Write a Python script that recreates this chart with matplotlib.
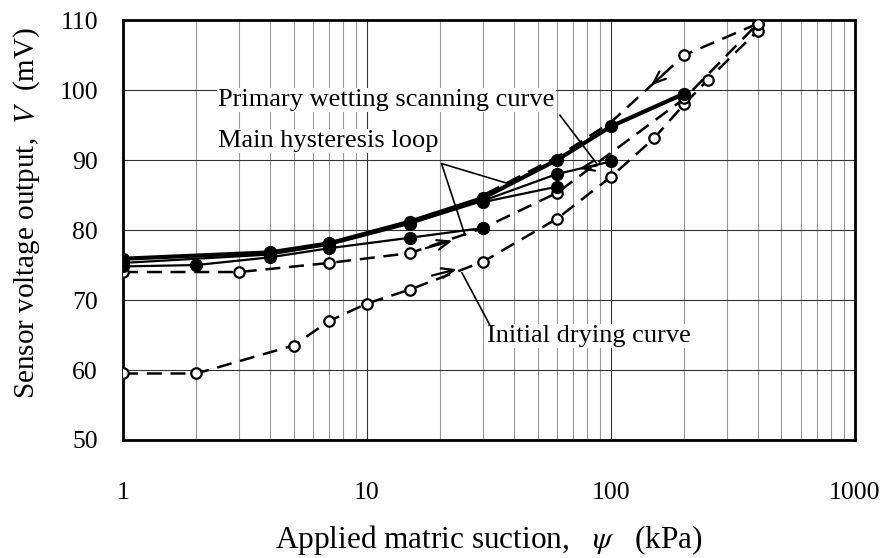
import matplotlib
matplotlib.use("Agg")
import matplotlib.pyplot as plt
from matplotlib.ticker import LogLocator, FixedLocator, NullFormatter

plt.rcParams["font.family"] = ["Liberation Serif", "DejaVu Serif"]
plt.rcParams["mathtext.fontset"] = "stix"

# ── data (suction in kPa, voltage in mV) ──────────────────────────────────────
init_dry_x = [1, 2, 5, 7, 10, 15, 30, 60, 100, 150, 200, 250, 400]
init_dry_v = [59.5, 59.5, 63.5, 67.0, 69.5, 71.5, 75.5, 81.6, 87.6, 93.1, 98.0, 101.5, 108.5]

main_dry_x = [1, 3, 7, 15, 30, 60, 200, 400]
main_dry_v = [74.0, 74.0, 75.3, 76.7, 80.3, 85.3, 98.8, 109.5]

main_wet_x = [400, 200, 100, 60, 30]
main_wet_v = [109.5, 105.0, 95.4, 90.4, 85.0]

prim_wet_x = [200, 100, 60, 30, 15, 7, 4, 1]
prim_wet_v = [99.5, 94.8, 90.0, 84.6, 81.2, 78.1, 76.8, 75.9]

scan2_x = [100, 60, 30, 15, 7, 4, 1]
scan2_v = [89.8, 88.0, 84.2, 80.9, 77.9, 76.5, 75.3]

scan3_x = [60, 30]
scan3_v = [86.2, 84.0]

scan4_x = [30, 15, 7, 4, 2, 1]
scan4_v = [80.3, 78.9, 77.4, 76.1, 75.0, 74.8]

x_ticks = [1, 10, 100, 1000]
y_ticks = [50, 60, 70, 80, 90, 100, 110]

fig = plt.figure(figsize=(8.85, 5.58), dpi=100)
ax = fig.add_axes([0.139, 0.2115, 0.827, 0.7525])
ax.set_xscale("log")
ax.set_xlim(1, 1000)
ax.set_ylim(50, 110)

# grid
ax.xaxis.set_major_locator(FixedLocator(x_ticks))
ax.xaxis.set_minor_locator(LogLocator(base=10, subs=range(2, 10)))
ax.xaxis.set_minor_formatter(NullFormatter())
ax.yaxis.set_major_locator(FixedLocator(y_ticks))
ax.grid(which="major", axis="both", color="#333333", lw=0.8)
ax.grid(which="minor", axis="x", color="#999999", lw=0.8)
ax.set_axisbelow(True)
ax.tick_params(which="both", length=0)
ax.tick_params(axis="x", pad=30, labelsize=18.5)
ax.tick_params(axis="y", pad=18, labelsize=18.5)
ax.set_xticklabels([str(t) for t in x_ticks])
for s in ax.spines.values():
    s.set_linewidth(2.0)

dash = (0, (6, 3.5))
open_kw = dict(marker="o", ms=7.5, mfc="white", mec="black", mew=1.6, color="black")
fill_kw = dict(marker="o", ms=8.5, mfc="black", mec="black", color="black")

ax.plot(init_dry_x, init_dry_v, ls=dash, lw=1.8, **open_kw, zorder=3)
ax.plot(main_dry_x, main_dry_v, ls=dash, lw=1.8, **open_kw, zorder=3)
ax.plot(main_wet_x, main_wet_v, ls=dash, lw=1.8, markevery=[0, 1], **open_kw, zorder=3)
ax.plot(scan4_x, scan4_v, ls="-", lw=1.6, **fill_kw, zorder=4)
ax.plot(scan3_x, scan3_v, ls="-", lw=1.6, **fill_kw, zorder=4)
ax.plot(scan2_x, scan2_v, ls="-", lw=1.6, **fill_kw, zorder=4)
ax.plot(prim_wet_x, prim_wet_v, ls="-", lw=3.0, **fill_kw, zorder=5)

# direction arrows along the curves
arrow_kw = dict(arrowstyle="->,head_length=0.9,head_width=0.35", color="black", lw=1.6)
for (x0, y0), (x1, y1) in [((18, 73.4), (24, 74.5)),
                           ((17, 77.3), (23, 78.6)),
                           ((90, 89.3), (72, 88.7)),
                           ((170, 102.7), (143, 100.4))]:
    ax.annotate("", xy=(x1, y1), xytext=(x0, y0), arrowprops=arrow_kw, zorder=6)

# labels with leader lines
box = dict(facecolor="white", edgecolor="none", pad=1)
ax.text(0.130, 0.810, "Primary wetting scanning curve", transform=ax.transAxes,
        fontsize=19, va="center", ha="left", bbox=box, zorder=7)
ax.text(0.130, 0.712, "Main hysteresis loop", transform=ax.transAxes,
        fontsize=19, va="center", ha="left", bbox=box, zorder=7)
ax.text(0.497, 0.248, "Initial drying curve", transform=ax.transAxes,
        fontsize=19, va="center", ha="left", bbox=box, zorder=7)

ax.plot([61.8, 87.0], [96.4, 89.6], color="black", lw=1.2, zorder=7)
ax.plot([37.4, 20.2, 25.2], [86.7, 89.5, 79.3], color="black", lw=1.2, zorder=7)
ax.plot([24.5, 31.8], [73.9, 66.5], color="black", lw=1.2, zorder=7)

ax.set_ylabel(r"Sensor voltage output,  $V$  (mV)", fontsize=21)
ax.yaxis.label.set_va("center")
ax.yaxis.set_label_coords(-0.131, 0.54)
ax.set_xlabel(r"Applied matric suction,   $\psi$   (kPa)", fontsize=22.5)
ax.xaxis.label.set_va("center")
ax.xaxis.set_label_coords(0.5, -0.238)

fig.savefig("out.png", dpi=100)
